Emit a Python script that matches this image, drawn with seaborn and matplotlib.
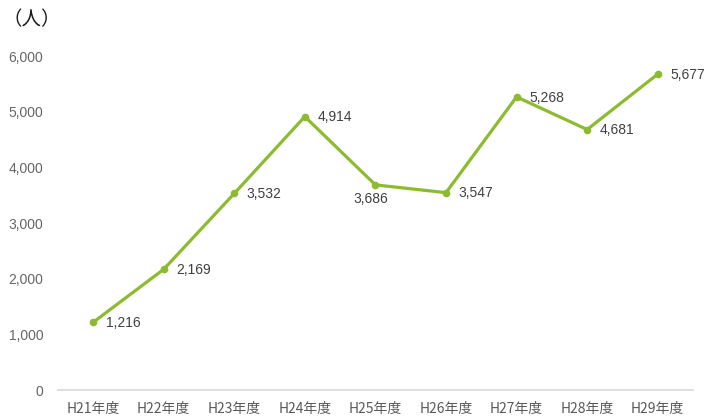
import matplotlib
matplotlib.use("Agg")
import matplotlib.pyplot as plt
import seaborn as sns
import pandas as pd

years = ["H21年度", "H22年度", "H23年度", "H24年度", "H25年度",
         "H26年度", "H27年度", "H28年度", "H29年度"]
people = [1216, 2169, 3532, 4914, 3686, 3547, 5268, 4681, 5677]
y_ticks = [0, 1000, 2000, 3000, 4000, 5000, 6000]

sns.set_theme(style="white")
plt.rcParams["font.family"] = ["Liberation Sans", "Noto Sans CJK JP", "DejaVu Sans"]

df = pd.DataFrame({"year": years, "people": people})

fig = plt.figure(figsize=(7.05, 4.16), dpi=100)
ax = fig.add_axes([0.082, 0.0625, 0.901, 0.8025])

green = "#8cbb2f"
sns.lineplot(data=df, x="year", y="people", ax=ax, color=green,
             linewidth=2.3, marker="o", markersize=5.5,
             markeredgewidth=0, sort=False, clip_on=False)

# value labels: right of each point, except the dip at H25 which sits below
for i, v in enumerate(people):
    if years[i] == "H25年度":
        offset, ha = (-3, -10), "center"
    else:
        offset, ha = (9, -0.5), "left"
    ax.annotate(f"{v:,}", (i, v), xytext=offset, textcoords="offset points",
                ha=ha, va="center", fontsize=10, color="#404040")

ax.set_xlim(-0.5, len(years) - 0.5)
ax.set_ylim(0, 6000)
ax.set_yticks(y_ticks)
ax.set_yticklabels([f"{t:,}" for t in y_ticks])
ax.set_xlabel("")
ax.set_ylabel("")
ax.tick_params(axis="both", length=0, labelsize=10, colors="#666666")
ax.tick_params(axis="y", pad=10.5)
ax.tick_params(axis="x", pad=9)
for lbl in ax.get_xticklabels():
    lbl.set_fontfamily(["Noto Sans CJK JP", "DejaVu Sans"])
    lbl.set_color("#595959")

for side in ["top", "right", "left"]:
    ax.spines[side].set_visible(False)
ax.spines["bottom"].set_color("#d9d9d9")
ax.spines["bottom"].set_linewidth(1.2)

fig.text(0.004, 0.952, "（人）", fontsize=14, color="#1a1a1a",
         family=["Noto Sans CJK JP", "DejaVu Sans"], va="center", ha="left")

fig.savefig("out.png", dpi=100, facecolor="white")
